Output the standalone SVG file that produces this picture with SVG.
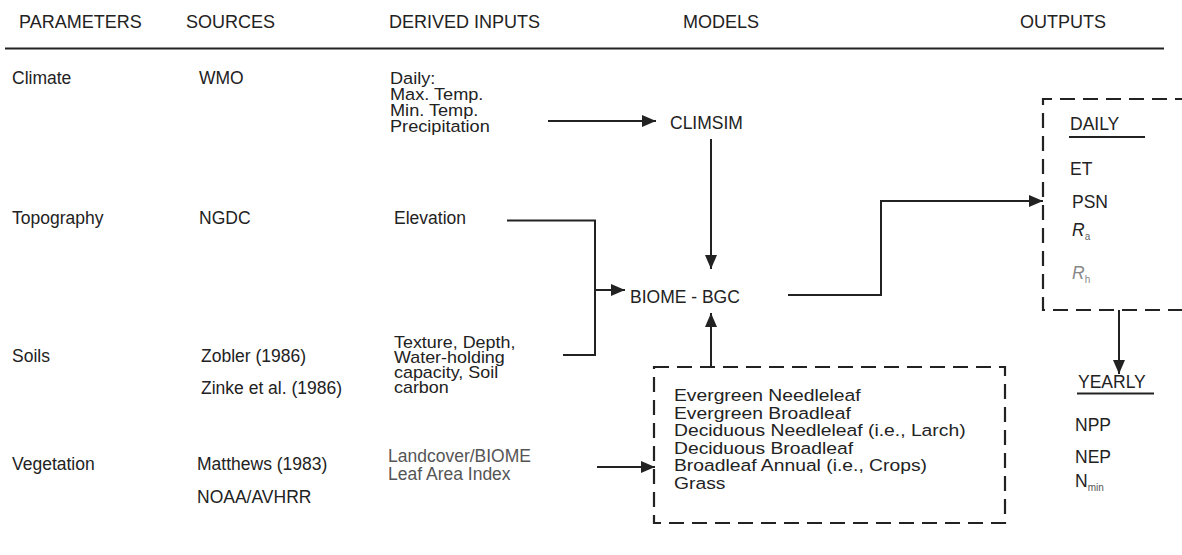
<svg xmlns="http://www.w3.org/2000/svg" width="1182" height="555" viewBox="0 0 1182 555">
<style>
text{font-family:"Liberation Sans",Arial,sans-serif;fill:#222;font-size:17.5px}
.hd{font-size:18px}
.blk{font-size:16.5px}
.blk2{font-size:16px}
.veg{font-size:16.5px}
.ln{fill:none;stroke:#222;stroke-width:2}
.dash{fill:none;stroke:#222;stroke-width:2.2;stroke-dasharray:15 8}
.gray{fill:#555}
.it{font-style:italic}
</style>
<defs>
<marker id="ah" viewBox="0 0 14 12" refX="14" refY="6" markerWidth="14" markerHeight="12" markerUnits="userSpaceOnUse" orient="auto">
<path d="M0,0 L14,6 L0,12 Z" fill="#222"/>
</marker>
</defs>
<rect width="1182" height="555" fill="#fff"/>

<g id="header">
<text class="hd" x="19" y="28">PARAMETERS</text>
<text class="hd" x="186" y="28">SOURCES</text>
<text class="hd" x="389" y="28">DERIVED INPUTS</text>
<text class="hd" x="683" y="28">MODELS</text>
<text class="hd" x="1020" y="28">OUTPUTS</text>
<line x1="5" y1="48.5" x2="1164" y2="48.5" stroke="#222" stroke-width="1.8"/>
</g>

<g id="climate">
<text x="12" y="84">Climate</text>
<text x="199" y="84">WMO</text>
<g transform="translate(390,0) scale(1.1,1)">
<text class="blk" x="0" y="84">Daily:</text>
<text class="blk" x="0" y="100">Max. Temp.</text>
<text class="blk" x="0" y="116">Min. Temp.</text>
<text class="blk" x="0" y="132">Precipitation</text>
</g>
</g>

<g id="topography">
<text x="12" y="224">Topography</text>
<text x="199" y="224">NGDC</text>
<text x="394" y="224">Elevation</text>
</g>

<g id="soils">
<text x="12" y="362">Soils</text>
<text x="201" y="362">Zobler (1986)</text>
<text x="201" y="394">Zinke et al. (1986)</text>
<g transform="translate(394,0) scale(1.12,1)">
<text class="blk2" x="0" y="348">Texture, Depth,</text>
<text class="blk2" x="0" y="363">Water-holding</text>
<text class="blk2" x="0" y="378">capacity, Soil</text>
<text class="blk2" x="0" y="393">carbon</text>
</g>
</g>

<g id="vegetation">
<text x="12" y="470">Vegetation</text>
<text x="197" y="470">Matthews (1983)</text>
<text x="197" y="503">NOAA/AVHRR</text>
<text class="gray" x="388" y="462">Landcover/BIOME</text>
<text class="gray" x="388" y="480">Leaf Area Index</text>
</g>

<g id="climsim">
<text x="670" y="129">CLIMSIM</text>
</g>

<g id="biome-bgc">
<text x="630" y="303">BIOME - BGC</text>
</g>

<g id="vegetation-types">
<rect class="dash" x="654" y="367" width="351" height="156"/>
<g transform="translate(674,0) scale(1.17,1)">
<text class="veg" x="0" y="401">Evergreen Needleleaf</text>
<text class="veg" x="0" y="419">Evergreen Broadleaf</text>
<text class="veg" x="0" y="436">Deciduous Needleleaf (i.e., Larch)</text>
<text class="veg" x="0" y="454">Deciduous Broadleaf</text>
<text class="veg" x="0" y="471">Broadleaf Annual (i.e., Crops)</text>
<text class="veg" x="0" y="489">Grass</text>
</g>
</g>

<g id="daily">
<path class="dash" d="M1190,99 H1043 V310 H1190"/>
<text x="1070" y="130">DAILY</text>
<line x1="1069" y1="137" x2="1145" y2="137" stroke="#222" stroke-width="1.8"/>
<text x="1070" y="175">ET</text>
<text x="1072" y="208">PSN</text>
<text x="1072" y="236"><tspan class="it">R</tspan><tspan font-size="10" dy="4" fill="#666">a</tspan></text>
<text x="1072" y="279" fill="#888"><tspan class="it" fill="#888">R</tspan><tspan font-size="10" dy="4" fill="#888">h</tspan></text>
</g>

<g id="yearly">
<text x="1078" y="388">YEARLY</text>
<line x1="1077" y1="393.5" x2="1154" y2="393.5" stroke="#222" stroke-width="1.8"/>
<text x="1075" y="431">NPP</text>
<text x="1075" y="463">NEP</text>
<text x="1075" y="487" fill="#444">N<tspan font-size="10" dy="4" fill="#555">min</tspan></text>
</g>

<g id="connectors">
<line class="ln" x1="548" y1="121" x2="656" y2="121" marker-end="url(#ah)"/>
<line class="ln" x1="711" y1="139" x2="711" y2="269" marker-end="url(#ah)"/>
<path class="ln" d="M507,220.5 H595 V355 H563"/>
<line class="ln" x1="595" y1="290" x2="625" y2="290" marker-end="url(#ah)"/>
<line class="ln" x1="711" y1="367" x2="711" y2="313" marker-end="url(#ah)"/>
<path class="ln" d="M788,295 H881 V201 H1043" marker-end="url(#ah)"/>
<line class="ln" x1="1119" y1="310" x2="1119" y2="374" marker-end="url(#ah)"/>
<line class="ln" x1="597" y1="467" x2="655" y2="467" marker-end="url(#ah)"/>
</g>
</svg>
